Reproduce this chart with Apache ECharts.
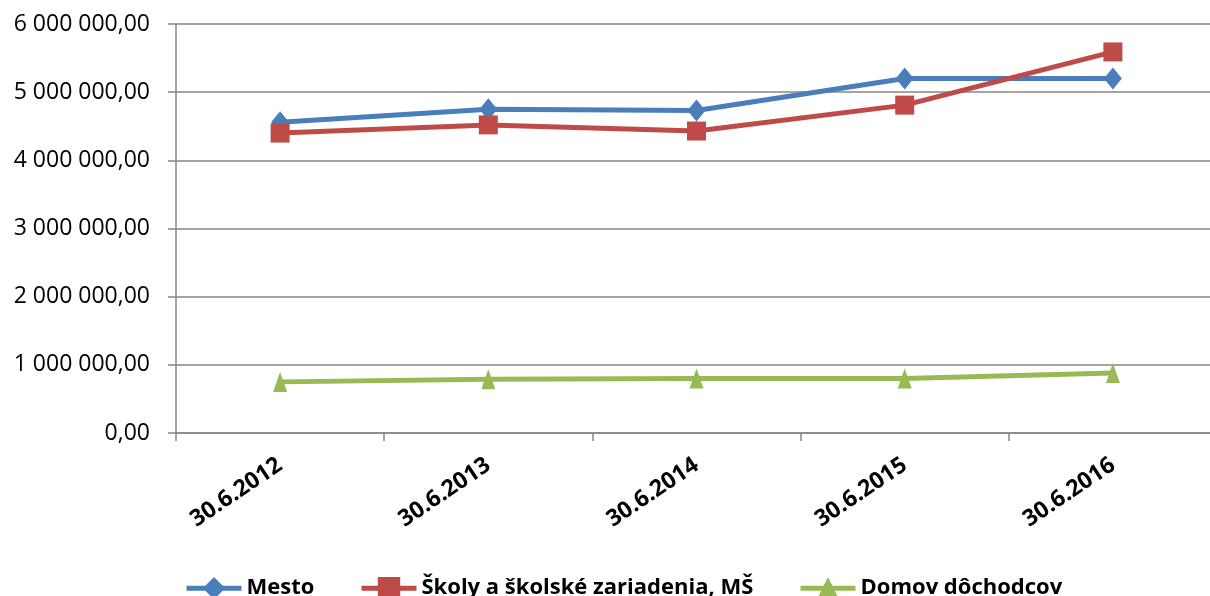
<!DOCTYPE html>
<html><head><meta charset="utf-8">
<script src="https://cdn.jsdelivr.net/npm/echarts@6/dist/echarts.min.js"></script>
<style>html,body{margin:0;padding:0;background:#fff}#c{width:1210px;height:596px}</style>
</head><body><div id="c"></div>
<script>
const categories = ['30.6.2012','30.6.2013','30.6.2014','30.6.2015','30.6.2016'];
const mesto = [4560000, 4750000, 4730000, 5200000, 5200000];
const skoly = [4400000, 4520000, 4430000, 4810000, 5590000];
const domov = [750000, 790000, 800000, 800000, 880000];
const seriesNames = ['Mesto','Školy a školské zariadenia, MŠ','Domov dôchodcov'];
const colors = ['#4A7EBB','#BE4B48','#98B954'];

function fmt(v){
  const s = Math.round(v).toString().replace(/\B(?=(\d{3})+(?!\d))/g,' ');
  return s + ',00';
}
const font = 'Open Sans';
const chart = echarts.init(document.getElementById('c'));
const legendBase = {orient:'horizontal', top:572, itemWidth:55, itemHeight:28, itemGap:0,
  lineStyle:{width:5},
  textStyle:{fontFamily:font, fontWeight:'bold', fontSize:22, color:'#000'}};
chart.setOption({
  animation:false,
  grid:{left:176, width:1041, top:24, bottom:163, containLabel:false, outerBoundsMode:'none'},
  legend:[
    Object.assign({}, legendBase, {left:179, data:[seriesNames[0]]}),
    Object.assign({}, legendBase, {left:354, data:[seriesNames[1]]}),
    Object.assign({}, legendBase, {left:793, data:[seriesNames[2]]})
  ],
  xAxis:{type:'category', data:categories, boundaryGap:true,
    axisLine:{lineStyle:{color:'#868686', width:1.5}},
    axisTick:{show:true, length:8, lineStyle:{color:'#868686', width:1.5}},
    axisLabel:{rotate:34, fontFamily:font, fontWeight:'bold', fontSize:23, color:'#000', margin:30}},
  yAxis:{type:'value', min:0, max:6000000, interval:1000000,
    axisLine:{show:true, lineStyle:{color:'#868686', width:1.5}},
    axisTick:{show:true, length:8, lineStyle:{color:'#868686', width:1.5}},
    splitLine:{lineStyle:{color:'#868686', width:1.5}},
    axisLabel:{formatter:fmt, fontFamily:font, fontSize:23, color:'#000', margin:26}},
  series:[
    {name:seriesNames[0], type:'line', data:mesto, symbol:'diamond', symbolSize:[18,22],
      lineStyle:{width:5, color:colors[0]}, itemStyle:{color:colors[0]}},
    {name:seriesNames[1], type:'line', data:skoly, symbol:'rect', symbolSize:19,
      lineStyle:{width:5, color:colors[1]}, itemStyle:{color:colors[1]}},
    {name:seriesNames[2], type:'line', data:domov, symbol:'triangle', symbolSize:[14,20],
      lineStyle:{width:5, color:colors[2]}, itemStyle:{color:colors[2]}}
  ]
});
</script></body></html>
